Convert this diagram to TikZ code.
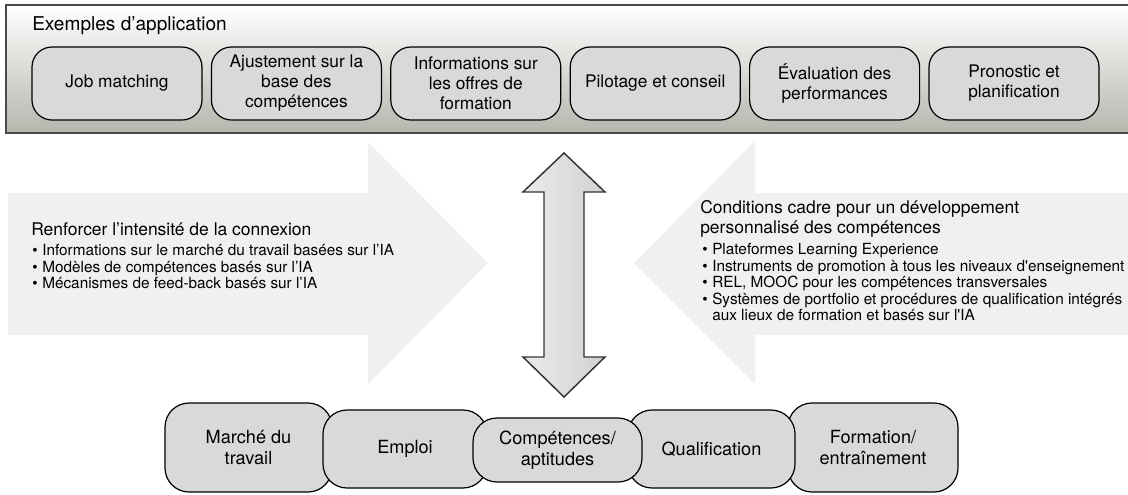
\documentclass[tikz,border=0pt]{standalone}
\usepackage{fontspec}
\setmainfont{TeX Gyre Heros}
\definecolor{boxgray}{HTML}{D9D9D9}
\definecolor{panelgray}{HTML}{B6B6AE}
\definecolor{arrowgray}{HTML}{F0F0F0}
\definecolor{framegray}{HTML}{4A4A4A}
\newcommand{\bul}{\makebox[7.5pt][l]{\textbullet}}

\begin{document}
\begin{tikzpicture}[x=0.75pt,y=-0.75pt,
    appbox/.style={draw,fill=boxgray,line width=0.9pt,rounded corners=15pt,align=center,
      minimum width=127.5pt,minimum height=54.75pt,inner sep=2pt,font=\fontsize{13}{15}\selectfont},
    fieldbox/.style={draw,fill=boxgray,line width=0.9pt,rounded corners=18pt,align=center,
      inner sep=2pt,font=\fontsize{13.6}{16}\selectfont},
    headtext/.style={inner sep=0pt,align=left,font=\fontsize{13.1}{15}\selectfont},
    listtext/.style={inner sep=0pt,align=left,font=\fontsize{11.5}{12.4}\selectfont}]
    \useasboundingbox (0,0) rectangle (1128,494);
    \clip (0,0) rectangle (1128,494);
    \draw[framegray,line width=1.5pt,top color=white,bottom color=panelgray] (6,5) rectangle (1140,133);
    \node[anchor=west,inner sep=0pt,font=\fontsize{14.3}{17}\selectfont] (title) at (32,26) {Exemples d’application};
    \node[appbox] (job) at (117,83.5) {Job matching};
    \node[appbox] (adjust) at (296.4,83.5) {Ajustement sur la\\base des\\compétences};
    \node[appbox] (offers) at (475.8,83.5) {Informations sur\\les offres de\\formation};
    \node[appbox] (steer) at (655.2,83.5) {Pilotage et conseil};
    \node[appbox] (eval) at (834.6,83.5) {Évaluation des\\performances};
    \node[appbox] (forecast) at (1014,83.5) {Pronostic et\\planification};

    \fill[arrowgray] (8,193) -- (368,193) -- (368,142) -- (488,263) -- (368,384) -- (368,335) -- (8,335) -- cycle;
    \fill[arrowgray] (1140,193) -- (755,193) -- (755,141) -- (634,263) -- (755,384) -- (755,335) -- (1140,335) -- cycle;
    \draw[draw=black!80,line width=1.1pt,left color=black!8,right color=black!18]
      (564,153) -- (605,192) -- (584,192) -- (584,357) -- (605,357) -- (564,397)
      -- (523,357) -- (544,357) -- (544,192) -- (523,192) -- cycle;

    \node[headtext,anchor=west] (lhead) at (31,229.5) {Renforcer l’intensité de la connexion};
    \node[listtext,anchor=north west] (llist) at (32,244.3)
      {\bul Informations sur le marché du travail basées sur l’IA\\
       \bul Modèles de compétences basés sur l’IA\\
       \bul Mécanismes de feed-back basés sur l’IA};
    \node[headtext,anchor=north west] (rhead) at (700,200.5)
      {Conditions cadre pour un développement\\personnalisé des compétences};
    \node[listtext,anchor=north west] (rlist) at (702,243.3)
      {\bul Plateformes Learning Experience\\
       \bul Instruments de promotion à tous les niveaux d\textquotesingle enseignement\\
       \bul REL, MOOC pour les compétences transversales\\
       \bul Systèmes de portfolio et procédures de qualification intégrés\\
       \hspace*{7.5pt}aux lieux de formation et basés sur l\textquotesingle IA};

    \node[fieldbox,minimum width=125.25pt,minimum height=66.75pt] (market) at (248.5,447.5) {Marché du\\travail};
    \node[fieldbox,minimum width=127.5pt,minimum height=66.75pt] (training) at (873,447.5) {Formation/\\entraînement};
    \node[fieldbox,minimum width=123pt,minimum height=58.5pt] (job2) at (405,449) {Emploi};
    \node[fieldbox,minimum width=125.25pt,minimum height=58.5pt] (qualif) at (711.5,449) {Qualification};
    \node[fieldbox,minimum width=126.75pt,minimum height=48pt] (skills) at (557.5,450) {Compétences/\\aptitudes};
\end{tikzpicture}
\end{document}
